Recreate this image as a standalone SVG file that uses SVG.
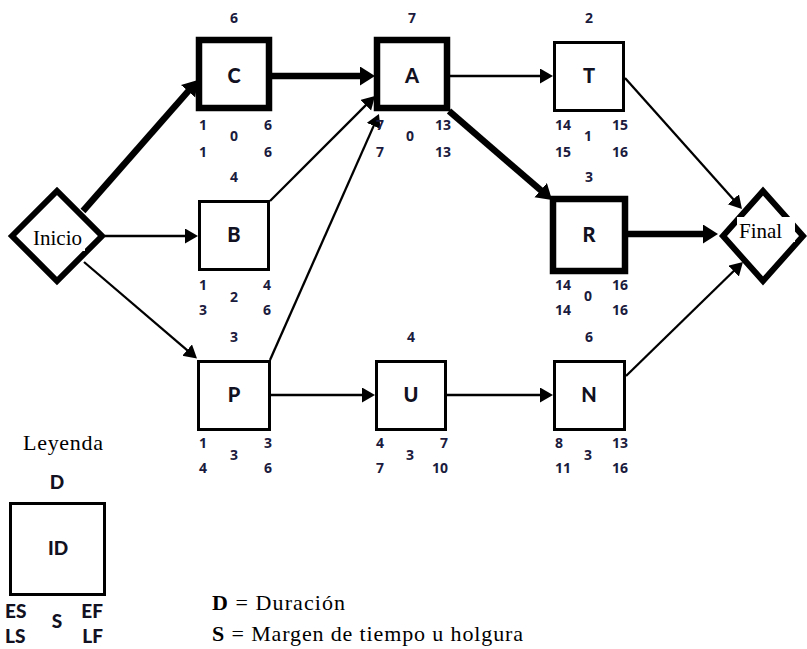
<svg xmlns="http://www.w3.org/2000/svg" width="807" height="649" viewBox="0 0 807 649">
<style>
.box{fill:#fff;stroke:#000;stroke-width:3}
.bold{fill:#fff;stroke:#000;stroke-width:6.5}
.dia{fill:#fff;stroke:#000;stroke-width:6;stroke-linejoin:miter}
.thin{stroke:#000;stroke-width:2.3;fill:none}
.thick{stroke:#000;stroke-width:6.5;fill:none}
.lbl{font-family:Lato,"Liberation Sans",sans-serif;font-weight:900;font-size:20px;fill:#111122;text-anchor:middle}
.n{font-family:"Open Sans",Lato,"Liberation Sans",sans-serif;font-weight:700;font-size:14px;fill:#1b1b3d}
.s{text-anchor:start}.e{text-anchor:end}.m{text-anchor:middle}
.serif{font-family:"Liberation Serif","Times New Roman",serif;fill:#000}
.leg{font-family:Lato,"Liberation Sans",sans-serif;font-weight:900;font-size:19px;fill:#111122}
</style>
<defs>
<marker id="ah" markerUnits="userSpaceOnUse" markerWidth="16" markerHeight="16" refX="3" refY="7.5" orient="auto">
<path d="M0,0 L13,7.5 L0,15 z" fill="#000"/>
</marker>
<marker id="ahb" markerUnits="userSpaceOnUse" markerWidth="20" markerHeight="20" refX="4" refY="9.5" orient="auto">
<path d="M0,0 L15,9.5 L0,19 z" fill="#000"/>
</marker>
</defs>
<g id="connectors">
<line class="thick" x1="83" y1="211" x2="190.7" y2="88.3" marker-end="url(#ahb)"/>
<line class="thick" x1="272" y1="76" x2="364" y2="76" marker-end="url(#ahb)"/>
<line class="thin" x1="450" y1="76" x2="543" y2="76" marker-end="url(#ah)"/>
<line class="thick" x1="449" y1="111" x2="543.7" y2="192.8" marker-end="url(#ahb)"/>
<line class="thin" x1="270" y1="201" x2="367.9" y2="103.1" marker-end="url(#ah)"/>
<line class="thin" x1="270" y1="360" x2="374.9" y2="123.1" marker-end="url(#ah)"/>
<line class="thin" x1="105" y1="236" x2="188" y2="236" marker-end="url(#ah)"/>
<line class="thin" x1="84" y1="262" x2="189.4" y2="352.1" marker-end="url(#ah)"/>
<line class="thin" x1="271" y1="395" x2="365" y2="395" marker-end="url(#ah)"/>
<line class="thin" x1="447" y1="395" x2="543" y2="395" marker-end="url(#ah)"/>
<line class="thin" x1="625" y1="78" x2="735.3" y2="201.5" marker-end="url(#ah)"/>
<line class="thick" x1="628" y1="234" x2="707" y2="234" marker-end="url(#ahb)"/>
<line class="thin" x1="626" y1="376" x2="735.8" y2="269" marker-end="url(#ah)"/>
</g>
<g id="inicio">
<polygon class="dia" points="12,236 57,191 102,236 57,281"/>
<rect x="31" y="225" width="54" height="26" fill="#fff"/>
<text class="serif" x="33" y="245" font-size="21" textLength="49">Inicio</text>
</g>
<g id="final">
<polygon class="dia" points="723,236 763,191 803,236 763,281"/>
<rect x="737" y="217" width="58" height="25" fill="#fff"/>
<text class="serif" x="739" y="238" font-size="21" textLength="43">Final</text>
</g>
<g id="C">
<rect class="bold" x="199" y="40" width="70" height="68"/>
<text class="lbl" x="234" y="83">C</text>
<text class="n m" x="234" y="23">6</text>
<text class="n s" x="199" y="130">1</text><text class="n e" x="272" y="130">6</text>
<text class="n m" x="234" y="141">0</text>
<text class="n s" x="199" y="157">1</text><text class="n e" x="272" y="157">6</text>
</g>
<g id="A">
<rect class="bold" x="377" y="40" width="70" height="68"/>
<text class="lbl" x="412" y="83">A</text>
<text class="n m" x="412" y="23">7</text>
<text class="n s" x="376" y="130">7</text><text class="n e" x="451" y="130">13</text>
<text class="n m" x="410" y="141">0</text>
<text class="n s" x="376" y="157">7</text><text class="n e" x="451" y="157">13</text>
</g>
<g id="T">
<rect class="box" x="554.5" y="42.5" width="69" height="68"/>
<text class="lbl" x="589" y="83">T</text>
<text class="n m" x="589" y="23">2</text>
<text class="n s" x="555" y="130">14</text><text class="n e" x="628" y="130">15</text>
<text class="n m" x="588" y="141">1</text>
<text class="n s" x="555" y="157">15</text><text class="n e" x="628" y="157">16</text>
</g>
<g id="B">
<rect class="box" x="199.5" y="201.5" width="69" height="68"/>
<text class="lbl" x="234" y="242">B</text>
<text class="n m" x="234" y="182">4</text>
<text class="n s" x="199" y="290">1</text><text class="n e" x="271" y="290">4</text>
<text class="n m" x="234" y="302">2</text>
<text class="n s" x="199" y="315">3</text><text class="n e" x="271" y="315">6</text>
</g>
<g id="R">
<rect class="bold" x="553" y="199" width="72" height="72"/>
<text class="lbl" x="589" y="242">R</text>
<text class="n m" x="589" y="182">3</text>
<text class="n s" x="555" y="290">14</text><text class="n e" x="628" y="290">16</text>
<text class="n m" x="588" y="301">0</text>
<text class="n s" x="555" y="315">14</text><text class="n e" x="628" y="315">16</text>
</g>
<g id="P">
<rect class="box" x="198.5" y="361.5" width="71" height="68"/>
<text class="lbl" x="234" y="402">P</text>
<text class="n m" x="234" y="342">3</text>
<text class="n s" x="199" y="448">1</text><text class="n e" x="272" y="448">3</text>
<text class="n m" x="234" y="460">3</text>
<text class="n s" x="199" y="473">4</text><text class="n e" x="272" y="473">6</text>
</g>
<g id="U">
<rect class="box" x="376.5" y="361.5" width="69" height="68"/>
<text class="lbl" x="411" y="402">U</text>
<text class="n m" x="411" y="342">4</text>
<text class="n s" x="376" y="448">4</text><text class="n e" x="448" y="448">7</text>
<text class="n m" x="410" y="460">3</text>
<text class="n s" x="376" y="473">7</text><text class="n e" x="448" y="473">10</text>
</g>
<g id="N">
<rect class="box" x="554.5" y="361.5" width="70" height="68"/>
<text class="lbl" x="589" y="402">N</text>
<text class="n m" x="589" y="342">6</text>
<text class="n s" x="555" y="448">8</text><text class="n e" x="628" y="448">13</text>
<text class="n m" x="588" y="460">3</text>
<text class="n s" x="555" y="473">11</text><text class="n e" x="628" y="473">16</text>
</g>
<g id="legend">
<text class="serif" x="23" y="450" font-size="22" textLength="80">Leyenda</text>
<text class="leg" x="57" y="489" text-anchor="middle">D</text>
<rect class="box" x="10.5" y="503.5" width="94" height="91"/>
<text class="leg" x="58" y="555" text-anchor="middle">ID</text>
<text class="leg" x="5" y="618">ES</text>
<text class="leg" x="5" y="643">LS</text>
<text class="leg" x="57" y="628" text-anchor="middle">S</text>
<text class="leg" x="103" y="618" text-anchor="end">EF</text>
<text class="leg" x="103" y="643" text-anchor="end">LF</text>
<text class="serif" x="212" y="610" font-size="22" textLength="133"><tspan font-weight="bold">D</tspan> = Duración</text>
<text class="serif" x="212" y="641" font-size="22" textLength="311"><tspan font-weight="bold">S</tspan> = Margen de tiempo u holgura</text>
</g>
</svg>
